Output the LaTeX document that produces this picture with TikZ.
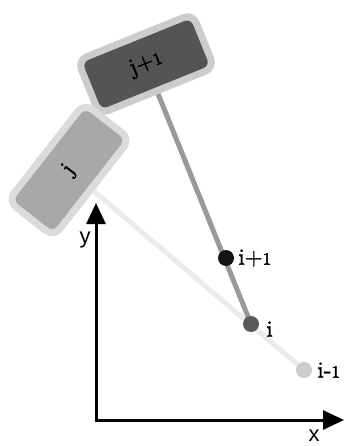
\documentclass[tikz,border=0pt]{standalone}
\usepackage{fontspec}
\newfontfamily\axisfont{Liberation Sans}
\newfontfamily\labelfont{lmroman10-regular.otf}[FakeBold=1.6]
\newfontfamily\onefont{lmroman10-regular.otf}[FakeBold=2.6,Scale=0.74]
\usetikzlibrary{arrows.meta,backgrounds}
% small old-style one
\newcommand{\osone}{{\onefont 1}}
\begin{document}
\begin{tikzpicture}[x=1pt,y=-1pt,
  linkbox/.style={rectangle,rounded corners=10pt,line width=7pt,
    minimum width=124pt,minimum height=58pt,font=\labelfont\fontsize{23}{26}\selectfont},
  joint/.style={circle,inner sep=0pt,minimum size=16pt},
  jlabel/.style={anchor=west,font=\labelfont\fontsize{23}{26}\selectfont,inner sep=1pt},
  axis/.style={line width=3pt,-{Triangle[length=21pt,width=19pt]}},
  axlabel/.style={font=\axisfont\fontsize{22}{24}\selectfont,inner sep=0pt}]
\useasboundingbox (0,0) rectangle (344,446);

% links
\node[linkbox,fill=black!67,draw=black!20,rotate=22] (bjj) at (146,64) {j+\osone};
\node[linkbox,fill=black!34,draw=black!14,rotate=52] (bj) at (69,170) {j};

% joints
\node[joint,fill=black!92] (pjj) at (226,258) {};
\node[joint,fill=black!65] (pi) at (251,324) {};
\node[joint,fill=black!20] (pm) at (304,370) {};
\node[jlabel] at ([xshift=3pt]pjj.east) {i+\osone};
\node[jlabel] at ([xshift=6pt,yshift=-5pt]pi.east) {i};
\node[jlabel] at ([xshift=4pt]pm.east) {i-\osone};

% rods behind everything
\begin{scope}[on background layer]
  \draw[line width=5pt,black!8] (bj.center) -- (pm.center);
  \draw[line width=5pt,black!40] (bjj.center) -- (pi.center);
\end{scope}

% axes
\coordinate (o) at (96,420);
\coordinate (ytip) at (96,203);
\coordinate (xtip) at (344,420);
\draw[axis] ([yshift=1.5pt]o) -- (ytip);
\draw[axis] ([xshift=-1.5pt]o) -- (xtip);
\node[axlabel] (ylab) at (85,240) {y};
\node[axlabel] (xlab) at (314,436) {x};
\end{tikzpicture}
\end{document}
